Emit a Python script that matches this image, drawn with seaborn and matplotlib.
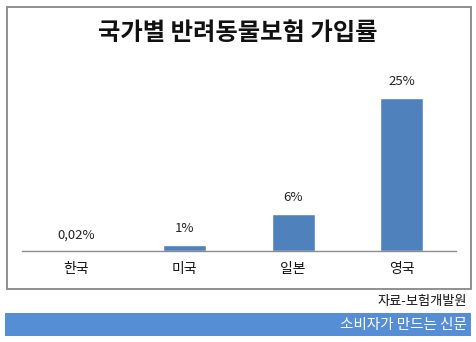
import matplotlib
matplotlib.use("Agg")
import matplotlib.pyplot as plt
import seaborn as sns
import pandas as pd
from matplotlib.patches import Rectangle

countries = ["한국", "미국", "일본", "영국"]
rates = [0.02, 1, 6, 25]
rate_labels = ["0,02%", "1%", "6%", "25%"]
title = "국가별 반려동물보험 가입률"
source = "자료-보험개발원"
banner = "소비자가 만드는 신문"

sns.set_theme(style="white")
plt.rcParams["font.family"] = ["Noto Sans CJK KR", "DejaVu Sans"]

W, H = 477, 342
fig = plt.figure(figsize=(W / 100, H / 100), dpi=100)

def fx(px):
    return px / W

def fy(py):
    return 1 - py / H

# outer frame
fig.patches.append(Rectangle((fx(7.5), fy(288.5)), fx(471 - 7.5), (288.5 - 6.5) / H,
                             transform=fig.transFigure, fill=False,
                             edgecolor="#878787", linewidth=1.3))
# banner
fig.patches.append(Rectangle((fx(5), fy(336)), fx(471 - 5), (336 - 313) / H,
                             transform=fig.transFigure, facecolor="#558ED5",
                             edgecolor="none"))

ax_left, ax_right = 22, 456
ax_bottom, ax_top = 251, 67
ax = fig.add_axes([fx(ax_left), fy(ax_bottom), fx(ax_right - ax_left), (ax_bottom - ax_top) / H])

df = pd.DataFrame({"country": countries, "rate": rates})
sns.barplot(data=df, x="country", y="rate", ax=ax, color="#4F81BD",
            saturation=1, width=0.4, order=countries)
ax.set_xlim(-0.5, 3.5)
ax.set_ylim(0, 30)
ax.set_xlabel("")
ax.set_ylabel("")
ax.set_yticks([])
for s in ["top", "left", "right"]:
    ax.spines[s].set_visible(False)
ax.spines["bottom"].set_color("#8c8c8c")
ax.spines["bottom"].set_linewidth(1)
ax.tick_params(axis="x", length=0, pad=8, labelsize=10, colors="#111111")
ax.patch.set_alpha(0)

for i, (v, lab) in enumerate(zip(rates, rate_labels)):
    ax.annotate(lab, (i, v), xytext=(0, 7), textcoords="offset points",
                ha="center", va="bottom", fontsize=9.5, color="#222222")

fig.text(fx(238), fy(33), title, ha="center", va="center", fontsize=17.5,
         fontweight="bold", color="#111111")
fig.text(fx(467), fy(301), source, ha="right", va="center", fontsize=9.5, color="#111111")
fig.text(fx(467), fy(324.5), banner, ha="right", va="center", fontsize=10.5, color="white")

fig.savefig("out.png", dpi=100)
